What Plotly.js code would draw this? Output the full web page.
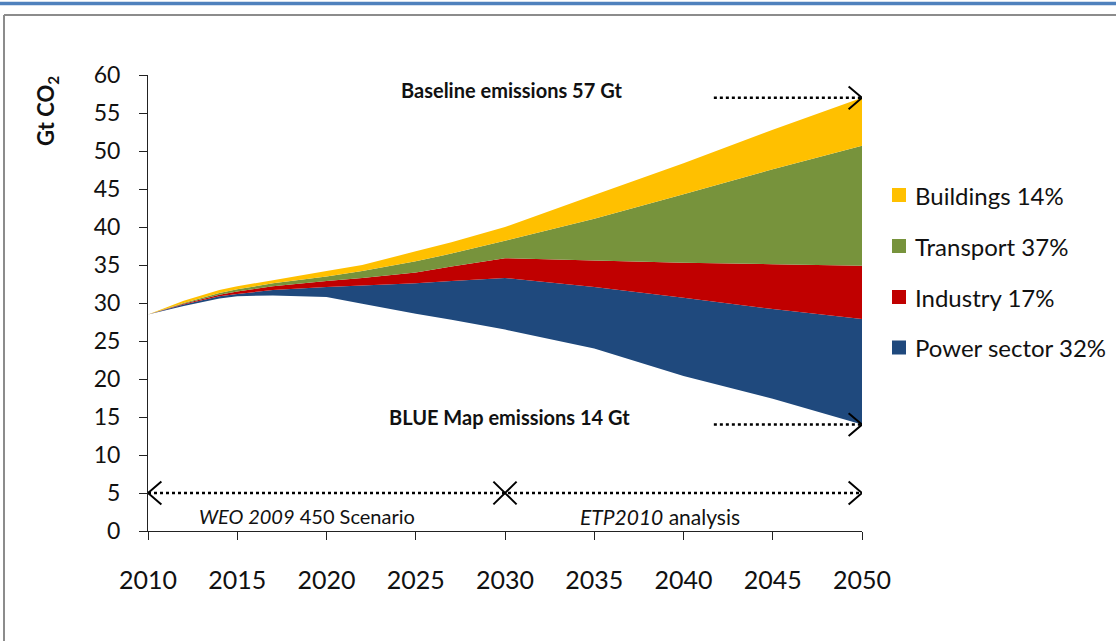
<!DOCTYPE html>
<html>
<head>
<meta charset="utf-8">
<script src="https://cdn.plot.ly/plotly-3.0.1.min.js"></script>
<style>html,body{margin:0;padding:0;background:#fff;}#chart{width:1116px;height:641px;}</style>
</head>
<body>
<div id="chart"></div>
<script>
// ---- Data (Gt CO2) ----
const years      = [2010, 2012, 2014, 2015, 2017, 2020, 2022, 2025, 2027, 2030, 2035, 2040, 2045, 2050];
const blueMap    = [28.5, 29.6, 30.6, 30.9, 31.0, 30.8, 29.9, 28.6, 27.8, 26.5, 24.0, 20.4, 17.4, 14.0];
const power      = [0.0, 0.2, 0.3, 0.3, 0.7, 1.3, 2.4, 4.0, 5.1, 6.8, 8.1, 10.3, 11.8, 13.9];
const industry   = [0.0, 0.1, 0.2, 0.3, 0.5, 0.8, 1.0, 1.4, 1.9, 2.6, 3.5, 4.6, 5.9, 7.0];
const transport  = [0.0, 0.1, 0.2, 0.3, 0.4, 0.6, 0.9, 1.5, 1.7, 2.3, 5.5, 9.0, 12.5, 15.8];
const buildings  = [0.0, 0.3, 0.4, 0.4, 0.4, 0.7, 0.8, 1.3, 1.5, 1.8, 3.1, 4.1, 5.2, 6.3];
const sectorNames = ["Power sector 32%", "Industry 17%", "Transport 37%", "Buildings 14%"];
const sectorColors = ["#1F497D", "#C00000", "#77933C", "#FFC000"];
const xTicks = [2010, 2015, 2020, 2025, 2030, 2035, 2040, 2045, 2050];
const yTicks = [0, 5, 10, 15, 20, 25, 30, 35, 40, 45, 50, 55, 60];
const baselineValue = 57, blueMapValue = 14, phaseSplit = 2030, arrowLevel = 5;

// ---- geometry helpers (layout only) ----
const W = 1116, H = 641, L = 148, R = 862, T = 75, B = 531;
const pxX = x => (x - L) / (R - L);
const pxY = y => (B - y) / (B - T);

const FONT = "Lato, 'Open Sans', sans-serif";
const sectorValues = [power, industry, transport, buildings];

const traces = [{
  x: years, y: blueMap, stackgroup: 'a', mode: 'none',
  fillcolor: 'rgba(0,0,0,0)', showlegend: false, hoverinfo: 'skip'
}];
sectorValues.forEach((v, i) => traces.push({
  x: years, y: v, stackgroup: 'a', mode: 'none', name: sectorNames[i],
  fillcolor: sectorColors[i], showlegend: false, hoverinfo: 'skip'
}));

const shapes = [];
const annotations = [];
const dotLine = {color: '#000', width: 2.5, dash: 'dot'};
const solid = {color: '#000', width: 2};
// frame
shapes.push({type: 'line', xref: 'paper', yref: 'paper', x0: pxX(0), x1: pxX(W), y0: pxY(3.5), y1: pxY(3.5), line: {color: '#4F81BD', width: 3.5}});
shapes.push({type: 'line', xref: 'paper', yref: 'paper', x0: pxX(4), x1: pxX(W), y0: pxY(15), y1: pxY(15), line: {color: '#8c8c8c', width: 2}});
shapes.push({type: 'line', xref: 'paper', yref: 'paper', x0: pxX(4), x1: pxX(4), y0: pxY(15), y1: pxY(H), line: {color: '#8c8c8c', width: 2}});

// dotted arrows
const xEnd = 2050, xStart = 2010, xDotStart = 2041.7;
const dx = 0.75, dy = 1.5;
shapes.push({type: 'line', xref: 'x', yref: 'y', x0: xStart, x1: xEnd, y0: arrowLevel, y1: arrowLevel, line: dotLine});
shapes.push({type: 'line', xref: 'x', yref: 'y', x0: xDotStart, x1: xEnd, y0: baselineValue, y1: baselineValue, line: dotLine});
shapes.push({type: 'line', xref: 'x', yref: 'y', x0: xDotStart, x1: xEnd, y0: blueMapValue, y1: blueMapValue, line: dotLine});
[[xEnd, baselineValue], [xEnd, blueMapValue], [xEnd, arrowLevel]].forEach(([x, y]) => {
  shapes.push({type: 'path', xref: 'x', yref: 'y', path: `M ${x - dx},${y + dy} L ${x},${y} L ${x - dx},${y - dy}`, line: solid});
});
shapes.push({type: 'path', xref: 'x', yref: 'y', path: `M ${xStart + dx},${arrowLevel + dy} L ${xStart},${arrowLevel} L ${xStart + dx},${arrowLevel - dy}`, line: solid});
shapes.push({type: 'path', xref: 'x', yref: 'y', path: `M ${phaseSplit - 0.65},${arrowLevel + 1.5} L ${phaseSplit + 0.65},${arrowLevel - 1.5} M ${phaseSplit - 0.65},${arrowLevel - 1.5} L ${phaseSplit + 0.65},${arrowLevel + 1.5}`, line: solid});

// text annotations
const boldFont = {family: "Lato, sans-serif", size: 20, color: '#111'};
annotations.push({xref: 'paper', yref: 'paper', x: pxX(399), y: pxY(90), xanchor: 'left', yanchor: 'middle', showarrow: false, text: '<b>Baseline emissions ' + baselineValue + ' Gt</b>', font: boldFont});
annotations.push({xref: 'paper', yref: 'paper', x: pxX(387), y: pxY(417), xanchor: 'left', yanchor: 'middle', showarrow: false, text: '<b>BLUE Map emissions ' + blueMapValue + ' Gt</b>', font: boldFont});
annotations.push({xref: 'paper', yref: 'paper', x: pxX(197), y: pxY(516), xanchor: 'left', yanchor: 'middle', showarrow: false, text: '<i>WEO 2009</i> 450 Scenario', font: {family: FONT, size: 20, color: '#111'}});
annotations.push({xref: 'paper', yref: 'paper', x: pxX(578), y: pxY(516), xanchor: 'left', yanchor: 'middle', showarrow: false, text: '<i>ETP2010</i> analysis', font: {family: FONT, size: 21, color: '#111'}});
// y title
annotations.push({xref: 'paper', yref: 'paper', x: pxX(47), y: pxY(111), xanchor: 'center', yanchor: 'middle', textangle: -90, showarrow: false, text: '<b>Gt CO<sub>2</sub></b>', font: {family: "Lato, sans-serif", size: 22, color: '#111'}});

// custom legend (top to bottom: Buildings, Transport, Industry, Power)
const legendY = [347.5, 297, 246, 195];
sectorNames.forEach((name, i) => {
  const cy = legendY[i];
  shapes.push({type: 'rect', xref: 'paper', yref: 'paper', x0: pxX(892), x1: pxX(906), y0: pxY(cy + 7), y1: pxY(cy - 7), fillcolor: sectorColors[i], line: {width: 0}});
  annotations.push({xref: 'paper', yref: 'paper', x: pxX(913), y: pxY(cy), xanchor: 'left', yanchor: 'middle', showarrow: false, text: name, font: {family: FONT, size: 24, color: '#111'}});
});

const layout = {
  width: W, height: H,
  margin: {l: L, r: W - R, t: T, b: H - B},
  paper_bgcolor: '#fff', plot_bgcolor: '#fff',
  showlegend: false,
  xaxis: {
    range: [2010, 2050], tickvals: xTicks, ticktext: xTicks.map(String),
    showgrid: false, zeroline: false, showline: true, linecolor: '#222', linewidth: 1,
    ticks: 'outside', ticklen: 8, tickcolor: '#222', ticklabelstandoff: 19,
    tickfont: {family: FONT, size: 25, color: '#111'}
  },
  yaxis: {
    range: [0, 60], tickvals: yTicks,
    showgrid: false, zeroline: false, showline: true, linecolor: '#222', linewidth: 1,
    ticks: 'outside', ticklen: 8, tickcolor: '#222', ticklabelstandoff: 14,
    tickfont: {family: FONT, size: 23, color: '#111'}
  },
  shapes: shapes,
  annotations: annotations
};

Plotly.newPlot('chart', traces, layout, {displayModeBar: false, staticPlot: true});
</script>
</body>
</html>
